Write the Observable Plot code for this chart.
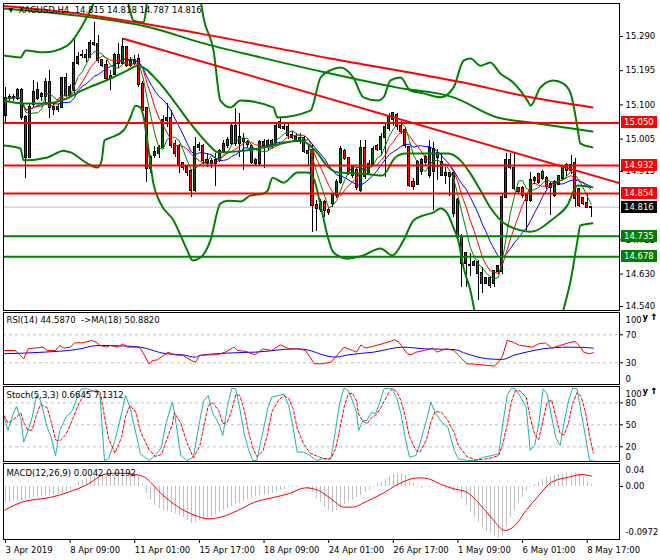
<!DOCTYPE html>
<html><head><meta charset="utf-8">
<script src="https://cdn.jsdelivr.net/npm/d3@7"></script>
<script src="https://cdn.jsdelivr.net/npm/@observablehq/plot@0.6"></script>
<style>
body{margin:0;background:#fff;}
#chart{position:relative;width:660px;height:560px;overflow:hidden;background:#fff;}
#chart svg{position:absolute;left:0;}
</style></head><body><div id="chart"></div>
<script>
// ---------- price data (H4 bars, index 0..145) ----------
const open = [15.071,15.117,15.121,15.118,15.140,15.066,14.955,15.100,15.118,15.130,
15.124,15.163,15.094,15.086,15.094,15.172,15.126,15.140,15.214,15.236,
15.238,15.232,15.270,15.268,15.223,15.209,15.172,15.185,15.237,15.214,
15.260,15.209,15.215,15.226,15.158,15.089,14.922,14.960,14.964,14.983,
15.057,15.062,14.990,14.985,14.936,14.925,14.914,14.862,14.983,14.985,
14.946,14.944,14.938,14.946,14.970,14.988,14.992,15.040,14.992,15.005,
14.995,14.985,14.945,14.937,14.996,14.985,14.999,14.995,15.050,15.034,
15.038,15.015,15.010,14.998,15.006,14.970,14.973,14.820,14.810,14.830,14.808,
14.825,14.848,14.885,14.970,14.950,14.905,14.918,14.862,14.980,14.910,
14.935,14.985,14.975,15.010,15.035,15.060,15.070,15.040,15.028,14.982,
14.885,14.880,14.915,14.955,14.905,14.975,14.965,
14.941,14.904,14.909,14.909,14.835,14.733,14.660,14.655,14.654,14.663,
14.631,14.603,14.617,14.603,14.636,14.636,14.844,14.946,14.922,14.867,
14.867,14.848,14.835,14.890,14.908,14.895,14.895,14.880,14.848,14.880,
14.895,14.918,14.918,14.936,14.866,14.839,14.825,14.815];
const high = [15.149,15.130,15.130,15.145,15.145,15.071,15.103,15.167,15.163,15.135,
15.172,15.196,15.103,15.100,15.176,15.186,15.158,15.288,15.245,15.250,
15.255,15.279,15.330,15.292,15.226,15.223,15.196,15.242,15.270,15.284,
15.262,15.232,15.236,15.240,15.165,15.092,14.960,14.985,14.988,15.070,
15.103,15.084,15.000,14.990,14.940,14.930,14.920,15.010,14.995,14.990,
14.965,14.950,14.965,14.975,15.000,15.010,15.045,15.089,15.075,15.020,
15.002,14.990,14.950,15.000,15.005,15.005,15.005,15.050,15.066,15.050,
15.045,15.025,15.020,15.020,15.012,14.990,14.990,14.834,14.838,14.835,14.812,
14.855,14.892,14.985,14.975,14.955,14.930,14.925,15.000,15.000,14.945,
14.985,14.990,15.020,15.050,15.075,15.080,15.075,15.055,15.035,14.985,
14.895,14.945,14.950,14.960,15.000,14.995,14.975,
14.966,14.925,14.913,14.918,14.840,14.740,14.690,14.686,14.668,14.668,
14.649,14.620,14.622,14.640,14.655,14.850,14.964,14.964,14.964,14.870,
14.872,14.853,14.913,14.900,14.910,14.918,14.900,14.885,14.890,14.905,
14.930,14.937,14.960,14.950,14.868,14.840,14.853,14.818];
const low = [15.047,15.110,15.110,15.112,15.057,14.895,14.950,15.094,15.112,15.110,
15.103,15.061,15.071,15.080,15.090,15.121,15.121,15.126,15.210,15.228,
15.218,15.228,15.262,15.214,15.205,15.167,15.140,15.182,15.200,15.209,
15.205,15.204,15.209,15.149,15.075,14.885,14.910,14.950,14.950,14.978,
15.038,14.980,14.955,14.910,14.918,14.900,14.844,14.858,14.970,14.935,
14.925,14.922,14.872,14.940,14.965,14.980,14.988,14.985,14.955,14.918,
14.978,14.935,14.930,14.930,14.922,14.970,14.978,14.992,15.032,15.028,
15.005,15.003,14.995,14.990,14.965,14.930,14.745,14.748,14.800,14.787,14.793,
14.815,14.840,14.880,14.945,14.905,14.895,14.862,14.858,14.893,14.905,
14.930,14.970,14.960,14.899,15.025,15.040,15.030,15.018,14.980,14.870,
14.862,14.875,14.905,14.930,14.895,14.807,14.890,
14.900,14.880,14.845,14.788,14.725,14.594,14.594,14.622,14.650,14.557,
14.575,14.600,14.590,14.594,14.630,14.630,14.840,14.920,14.862,14.850,
14.840,14.751,14.830,14.880,14.880,14.890,14.865,14.793,14.843,14.875,
14.892,14.900,14.908,14.816,14.816,14.820,14.811,14.787];
const close = [15.117,15.121,15.118,15.140,15.066,14.955,15.094,15.134,15.140,15.124,
15.163,15.094,15.086,15.094,15.172,15.126,15.149,15.214,15.233,15.238,
15.232,15.270,15.268,15.223,15.209,15.172,15.180,15.237,15.214,15.260,
15.209,15.221,15.222,15.158,15.084,14.922,14.955,14.968,14.978,15.057,
15.062,14.988,14.964,14.932,14.925,14.912,14.862,14.983,14.988,14.946,
14.941,14.938,14.946,14.970,14.990,15.000,15.040,14.992,15.010,14.998,
14.990,14.941,14.937,14.996,14.988,14.999,14.985,15.040,15.038,15.038,
15.015,15.010,15.000,15.006,14.970,14.966,14.820,14.812,14.830,14.808,14.800,
14.850,14.885,14.975,14.950,14.910,14.925,14.870,14.978,14.900,14.935,
14.975,14.975,15.010,15.038,15.066,15.075,15.040,15.025,14.987,14.876,
14.872,14.940,14.946,14.940,14.980,14.915,14.955,
14.904,14.909,14.900,14.797,14.733,14.659,14.686,14.655,14.663,14.631,
14.603,14.617,14.598,14.636,14.650,14.844,14.946,14.927,14.867,14.860,
14.848,14.835,14.890,14.895,14.885,14.913,14.872,14.870,14.885,14.900,
14.927,14.932,14.932,14.839,14.821,14.825,14.816,14.816];

// ---------- overlay lines (bar index, price) ----------
const maRedBar = [-0.5,17.8,48.3,80.4,113.4,130,145.3];
const maRedPrice = [15.375,15.354,15.298,15.229,15.162,15.121,15.093];
const maGreenBar = [-0.5,17.8,35.9,48.3,63.1,80.4,97,110.9,121.8,130,145.3];
const maGreenPrice = [15.368,15.348,15.315,15.273,15.232,15.187,15.148,15.121,15.065,15.051,15.026];
const bbUpBar = [-0.5,3.7,5,9.4,15.3,19.3,21.8,23.5,28.5,30.2,31.7,34.2,35.1,37.1,45.8,48.3,49,51.5,53.2,55.7,58.2,66.3,67.3,75.5,78,80.4,82.9,86.1,88.6,92.1,93.6,95.3,97.8,100.2,103.5,107.7,110.9,113.4,115.1,117.6,120,122.5,125.7,129.2,130,132.4,135.6,138.1,139.9,141.6,142.3,145.3];
const bbUpPrice = [15.237,15.232,15.251,15.246,15.265,15.326,15.382,15.432,15.432,15.390,15.334,15.329,15.390,15.459,15.459,15.390,15.343,15.251,15.112,15.093,15.112,15.093,15.065,15.084,15.176,15.196,15.204,15.176,15.121,15.112,15.121,15.168,15.176,15.140,15.132,15.121,15.148,15.223,15.229,15.209,15.218,15.187,15.162,15.112,15.098,15.148,15.168,15.159,15.132,15.037,14.993,14.982];
const bbMidBar = [-0.5,4.5,9.4,15.3,17.8,21.8,26,30.2,32.7,37.6,41.6,45.8,50,52.7,59.4,66.1,73,76.7,80,82.4,88.4,93.3,96.5,99,109.7,112.6,115.1,117.6,120,124.3,130,135.6,139.1,141.6,145.3];
const bbMidPrice = [15.112,15.104,15.104,15.118,15.134,15.154,15.173,15.196,15.209,15.168,15.112,15.048,14.993,14.968,14.973,14.987,15.001,14.973,14.926,14.912,14.909,14.904,14.954,14.965,14.965,14.946,14.909,14.862,14.815,14.765,14.748,14.784,14.821,14.876,14.871];
const bbLowBar = [-0.5,3.7,4.5,10.4,14.4,16.1,20.3,22.8,23.8,24.5,26,29.2,30.9,32.2,33.4,34.2,35.1,36.6,38.4,41.6,45,46.3,48.3,50.7,53.2,55,58.2,60.6,63.9,64.9,66.1,68.8,72.3,74.8,76.2,78,79.7,81.2,84.7,88.6,92.8,95.8,98.5,101,103.5,105.9,107.7,109.4,110.9,112.1,113.4,115.1,116.6,118.8,136.1,138.1,139.9,141.6,142.3,145.3];
const bbLowPrice = [14.987,14.979,14.946,14.954,14.973,14.968,14.937,14.926,14.946,15.001,15.009,15.029,15.065,15.098,15.093,15.065,15.001,14.882,14.826,14.779,14.696,14.668,14.676,14.723,14.826,14.834,14.832,14.848,14.854,14.862,14.898,14.884,14.912,14.912,14.898,14.821,14.737,14.690,14.673,14.682,14.701,14.682,14.723,14.779,14.793,14.801,14.812,14.798,14.759,14.723,14.648,14.584,14.501,14.432,14.432,14.529,14.612,14.723,14.765,14.771];
const trendBar = [29.2,152.2];
const trendPrice = [15.284,14.882];
const levelPrices = [15.050,14.932,14.854,14.735,14.678];
const levelColors = ["#ff0000","#ff0000","#ff0000","#008000","#008000"];
const bidPrice = 14.816;
const priceTicks = [15.290,15.195,15.100,15.005,14.915,14.725,14.630,14.540];

// ---------- RSI ----------
const rsiBar = [-0.4,2.4,4.5,5.6,7.2,9.3,10.3,12.4,13.4,14.5,16.1,17.1,19.2,21.3,22.4,23.4,25,26,27.6,29.2,30.2,32.3,33.4,34.4,35.5,36.5,37.6,39.2,40.2,41.8,43.9,46,47,48.1,50.2,52.3,54.4,56.5,57.5,59.6,61.7,63.8,65.9,68,70.1,72.2,74.3,75.4,76.4,78.5,80.6,81.7,83.8,85.9,86.9,88,89,91.1,93.2,95.3,96.3,97.4,99.5,100.5,101.6,103.7,105.8,106.8,109,111,112.6,114.2,117.3,119.4,121,122.1,123.1,124.2,125.7,127.3,128.9,130.5,132,133.6,135.2,137.3,139.4,141,142,143.1,144.6,145.5];
const rsiVal = [47.6,47.6,35.7,50,51,52.4,47.6,47.6,54.8,51,52.4,58.6,58.6,61.9,59.5,54.8,52.4,54.8,52.4,57.1,52.4,52.4,51,40.5,28.6,33.3,34.3,40.5,45.2,41.4,40.5,33.3,31,40.5,41.4,41.4,45.2,52.4,47.6,46.2,41.4,50,47.6,55.7,50,50,47.6,38.1,28.6,28.6,31,38.1,52.4,47.6,45.2,55.7,51,53.8,57.1,60.5,62.9,59.5,42.9,41.4,45.2,47.6,51,45.2,50,47.6,38.1,28.6,27.6,26.2,25.2,31,40.5,61.9,59.5,54.8,53.8,52.4,57.1,58.6,51,54.8,58.6,60.5,54.8,45.2,42.9,44.6];
const rsiMaBar = [-0.4,9.3,17.6,22.9,30.2,33.4,39.7,43.9,47,48.1,56.5,61.7,72.2,75.4,78.5,81.7,84.8,91.1,98.4,103.7,111,114.2,119.4,123.1,125.7,128.9,133.1,139.4,143.6,145.5];
const rsiMaVal = [42.9,45.2,49,54.8,53.8,52.4,42.9,41.4,38.1,40.5,44.3,45.2,50,47.6,41.4,38.1,41.4,45.2,52.4,50,49,42.9,35.7,34.8,40.5,45.2,50,52.4,51.9,50.9];
const rsiLevels = [70,30];

// ---------- Stochastic ----------
const stochBar = [-0.4,0.6,1.9,2.7,3.8,4.5,5.6,6.6,7.7,8.7,10.3,11.3,12.4,13.4,15,16.6,17.6,18.7,20.3,22.4,23.4,24.5,25.5,27.1,28.7,29.7,30.8,32.3,33.4,35.5,37.1,38.6,39.7,41.3,41.8,43.4,44.9,46.5,48.1,49.1,50.2,51.2,52.8,53.8,54.9,56,57,58,59.1,60.1,61.2,62.2,63.8,64.9,65.9,67.5,68.9,70.1,71.2,72.2,73.8,75.4,77,78.5,80.1,80.6,81.7,82.7,83.8,84.8,85.9,86.9,87.4,88.5,89.5,90.6,91.6,92.7,93.7,94.8,95.8,96.9,97.9,99,100,101.6,102.6,104.2,105.3,106.3,107.9,109.5,111.1,112.1,114.2,116.3,118.4,120.5,122.1,123.1,124.2,125.2,126.2,127.3,128.9,129.9,131,132,133.1,134.1,135.2,136.2,137.3,138.3,139.4,140.4,141.5,142.5,143.6,144.6,145.5];
const stochVal = [62.8,42.3,65,75,58.2,26.4,42.3,60.5,90,83.2,46.9,33.2,8.2,42.3,60.5,69.6,85.5,99.1,99.1,94.6,90,1.4,3.7,28.7,65,90,74.1,37.8,10.5,1.4,8.2,19.6,51.4,81,67.3,8.2,1.4,5.9,56,83.2,90,67.3,51.4,35.5,74.1,100,99.1,71.9,37.8,17.3,1.4,1.4,42.3,71.9,87.8,90,92.3,76.4,46.9,12.8,12.8,8.2,1.4,3.7,3.7,5.9,42.3,78.7,100,96.9,83.2,67.3,42.3,56,56,67.3,65,81,99.1,100,99.1,85.5,65,31,5.9,8.2,24.1,56,81,67.3,53.7,46.9,15,3.7,1.4,1.4,5.9,8.2,10.5,51.4,90,100,99.1,90,74.1,15,21.9,51.4,99.1,92.3,60.5,33.2,21.9,53.7,83.2,100,99.1,67.3,33.2,1.4,0.66];
const stochLevels = [80,50,20];

// ---------- MACD ----------
const macdHist = [-0.0293,-0.0293,-0.0287,-0.0274,-0.0262,-0.0249,-0.0231,-0.0212,-0.0199,-0.0187,
-0.0174,-0.0168,-0.0162,-0.0143,-0.0125,-0.0100,-0.0069,-0.0012,0.0081,0.0112,
0.0143,0.0174,0.0193,0.0206,0.0224,0.0237,0.0243,0.0249,0.0249,0.0255,
0.0249,0.0243,0.0224,0.0187,0.0050,-0.0137,-0.0262,-0.0355,-0.0417,-0.0449,
-0.0467,-0.0480,-0.0511,-0.0548,-0.0586,-0.0636,-0.0685,-0.0673,-0.0636,-0.0611,
-0.0586,-0.0555,-0.0523,-0.0492,-0.0449,-0.0405,-0.0374,-0.0336,-0.0312,-0.0280,
-0.0249,-0.0218,-0.0193,-0.0174,-0.0162,-0.0143,-0.0125,-0.0100,-0.0075,-0.0050,
-0.0025,-0.0019,-0.0012,-0.0006,-0.0006,-0.0044,-0.0112,-0.0231,-0.0293,-0.0386,
-0.0449,-0.0480,-0.0449,-0.0399,-0.0343,-0.0299,-0.0255,-0.0212,-0.0168,-0.0118,
-0.0075,-0.0012,0.0031,0.0075,0.0131,0.0181,0.0224,0.0237,0.0231,0.0199,
0.0143,0.0062,-0.0012,-0.0037,-0.0012,-0.0012,-0.0012,-0.0019,-0.0025,-0.0044,
-0.0062,-0.0087,-0.0125,-0.0231,-0.0355,-0.0480,-0.0573,-0.0667,-0.0760,-0.0835,
-0.0872,-0.0930,-0.0972,-0.0925,-0.0760,-0.0573,-0.0449,-0.0293,-0.0199,-0.0087,
-0.0012,0.0037,0.0081,0.0125,0.0162,0.0187,0.0206,0.0218,0.0231,0.0237,
0.0243,0.0237,0.0212,0.0162,0.0100,0.0042];
const sigBar = [-0.4,4,11.4,15.6,19.8,25,28.1,32.3,34.4,38.6,42.8,47,50.2,53.3,57.5,61.7,65.9,70.1,74.3,77.5,80.6,83.8,85.9,89,93.2,97.4,100.5,102.6,104.7,107.9,111,114.2,117.3,120.5,123.6,125.7,128.9,132,135.2,139.4,142.5,145.1];
const sigVal = [-0.0449,-0.0293,-0.0199,-0.0106,0.0019,0.0237,0.0249,0.0224,0.0174,-0.0137,-0.0386,-0.0542,-0.0604,-0.0573,-0.0449,-0.0293,-0.0212,-0.0137,-0.0025,-0.0075,-0.0231,-0.0386,-0.0386,-0.0293,-0.0137,0.0050,0.0143,0.0162,0.0143,0.0037,-0.0044,-0.0106,-0.0324,-0.0604,-0.0822,-0.0760,-0.0449,-0.0168,0.0081,0.0174,0.0224,0.0192];

// ---------- time axis ----------
const timeTickBars = [0,16,32,48,64,80,96,112,128,144];
const timeTickLabels = ["3 Apr 2019","8 Apr 09:00","11 Apr 01:00","15 Apr 17:00","18 Apr 09:00","24 Apr 01:00","26 Apr 17:00","1 May 09:00","6 May 01:00","8 May 17:00"];

const titleMain = "XAGUSD,H4  14.815 14.818 14.787 14.816";
const titleRsi = "RSI(14) 44.5870  ->MA(18) 50.8820";
const titleStoch = "Stoch(5,3,3) 0.6645 7.1312";
const titleMacd = "MACD(12,26,9) 0.0042 0.0192";

// ---------- build ----------
const FONT = "'DejaVu Sans', sans-serif";
const FS = 8.5;
const STYLE = {fontFamily: FONT, fontSize: FS + "px", color: "black", background: "transparent", overflow: "visible"};
const X_DOMAIN = [-0.5, 152];
const ML = 3, MR = 41, W = 660;
const BULL = "#006400", BEAR = "#ff0000", GREEN = "#008000";

const bars = close.map((c, i) => ({i, o: open[i], h: high[i], l: low[i], c}));
const pts = (xs, ys) => xs.map((x, k) => ({x, y: ys[k]}));

function priceTags(tags) {
  return (index, scales, values, dimensions) => {
    const g = d3.create("svg:g").attr("font-family", FONT).attr("font-size", FS).attr("text-anchor", "start");
    const x0 = dimensions.width - dimensions.marginRight + 2;
    for (const t of tags) {
      const y = Math.round(scales.y(t.price));
      g.append("rect").attr("x", x0).attr("y", y - 6).attr("width", 36).attr("height", 12).attr("fill", t.bg);
      g.append("text").attr("x", x0 + 3).attr("y", y).attr("dy", "0.35em").attr("text-anchor", "start").attr("fill", "white").text(t.price.toFixed(3));
    }
    return g.node();
  };
}

const tags = levelPrices.map((p, k) => ({price: p, bg: levelColors[k]})).concat([{price: bidPrice, bg: "#000000"}]);

const mainPlot = Plot.plot({
  width: W, height: 312, marginTop: 3, marginBottom: 2, marginLeft: ML, marginRight: MR,
  style: STYLE,
  x: {domain: X_DOMAIN, axis: null},
  y: {domain: [14.5289, 15.3817], axis: null},
  color: {type: "identity"},
  marks: [
    Plot.ruleY([bidPrice], {stroke: "#c0c0c0", strokeWidth: 1}),
    Plot.ruleX(bars, {x: "i", y1: "l", y2: "h", stroke: "black", strokeWidth: 1, shapeRendering: "crispEdges"}),
    Plot.rect(bars, {x1: d => d.i - 0.5, x2: d => d.i + 0.5, y1: d => Math.min(d.o, d.c), y2: d => Math.max(d.o, d.c),
      insetLeft: 1, insetRight: 1, insetTop: -0.5, insetBottom: -0.5,
      fill: d => d.c >= d.o ? BULL : BEAR, stroke: "black", strokeWidth: 1, shapeRendering: "crispEdges"}),
    Plot.line(bars, Plot.windowY({k: 13, anchor: "end", reduce: "mean"}, {x: "i", y: "c", stroke: "#0000ff", strokeWidth: 1})),
    Plot.line(bars, Plot.windowY({k: 8, anchor: "end", reduce: "mean"}, {x: "i", y: "c", stroke: "#ff0000", strokeWidth: 1})),
    Plot.line(bars, Plot.windowY({k: 5, anchor: "end", reduce: "mean"}, {x: "i", y: "c", stroke: GREEN, strokeWidth: 1})),
    Plot.line(pts(bbUpBar, bbUpPrice), {x: "x", y: "y", stroke: GREEN, strokeWidth: 2, curve: "monotone-x", clip: true}),
    Plot.line(pts(bbMidBar, bbMidPrice), {x: "x", y: "y", stroke: GREEN, strokeWidth: 2, curve: "monotone-x", clip: true}),
    Plot.line(pts(bbLowBar, bbLowPrice), {x: "x", y: "y", stroke: GREEN, strokeWidth: 2, curve: "monotone-x", clip: true}),
    Plot.line(pts(maGreenBar, maGreenPrice), {x: "x", y: "y", stroke: GREEN, strokeWidth: 2, curve: "monotone-x", clip: true}),
    Plot.line(pts(maRedBar, maRedPrice), {x: "x", y: "y", stroke: "#ff0000", strokeWidth: 2, curve: "monotone-x", clip: true}),
    Plot.line(pts(trendBar, trendPrice), {x: "x", y: "y", stroke: "#ff0000", strokeWidth: 2, clip: true}),
    Plot.ruleY(levelPrices, {stroke: (d, k) => levelColors[k], strokeWidth: 2}),
    Plot.frame({stroke: "black", shapeRendering: "crispEdges"}),
    Plot.axisY({anchor: "right", ticks: priceTicks, tickSize: 3, tickPadding: 3, tickFormat: d => d.toFixed(3), fontSize: FS}),
    priceTags(tags),
    Plot.text(["\u25BC"], {frameAnchor: "top-left", dx: 5, dy: 4, lineAnchor: "top", textAnchor: "start", fontSize: 6, fill: "black"}),
    Plot.text([titleMain], {frameAnchor: "top-left", dx: 15, dy: 3, lineAnchor: "top", textAnchor: "start", fontSize: FS, fill: "black"})
  ]
});
mainPlot.style.top = "0px";

const rsiPlot = Plot.plot({
  width: W, height: 76, marginTop: 2, marginBottom: 2, marginLeft: ML, marginRight: MR,
  style: STYLE,
  x: {domain: X_DOMAIN, axis: null},
  y: {domain: [-1, 101.9], axis: null},
  marks: [
    Plot.ruleY(rsiLevels, {stroke: "#c0c0c0", strokeDasharray: "3,3"}),
    Plot.line(pts(rsiMaBar, rsiMaVal), {x: "x", y: "y", stroke: "#0000ff", strokeWidth: 1, curve: "monotone-x"}),
    Plot.line(pts(rsiBar, rsiVal), {x: "x", y: "y", stroke: "#ff0000", strokeWidth: 1}),
    Plot.frame({stroke: "black", shapeRendering: "crispEdges"}),
    Plot.axisY({anchor: "right", ticks: [70, 30], tickSize: 3, tickPadding: 3, fontSize: FS}),
    Plot.axisY({anchor: "right", ticks: [100], tickSize: 0, tickPadding: 6, dy: 6, fontSize: FS}),
    Plot.axisY({anchor: "right", ticks: [0], tickSize: 0, tickPadding: 6, dy: -5, fontSize: FS}),
    Plot.text([titleRsi], {frameAnchor: "top-left", dx: 3, dy: 4, lineAnchor: "top", textAnchor: "start", fontSize: FS, fill: "black"})
  ]
});
rsiPlot.style.top = "310px";

const stochPlot = Plot.plot({
  width: W, height: 79, marginTop: 2, marginBottom: 2, marginLeft: ML, marginRight: MR,
  style: STYLE,
  x: {domain: X_DOMAIN, axis: null},
  y: {domain: [0, 102.3], axis: null},
  marks: [
    Plot.ruleY(stochLevels, {stroke: "#c0c0c0", strokeDasharray: "3,3"}),
    Plot.line(pts(stochBar, stochVal), {x: "x", y: "y", stroke: "#20b2aa", strokeWidth: 1}),
    Plot.line(pts(stochBar, stochVal), Plot.windowY({k: 3, anchor: "end", reduce: "mean"}, {x: "x", y: "y", stroke: "#ff0000", strokeWidth: 1, strokeDasharray: "3,2"})),
    Plot.frame({stroke: "black", shapeRendering: "crispEdges"}),
    Plot.axisY({anchor: "right", ticks: stochLevels, tickSize: 3, tickPadding: 3, fontSize: FS}),
    Plot.axisY({anchor: "right", ticks: [100], tickSize: 0, tickPadding: 6, dy: 6, fontSize: FS}),
    Plot.axisY({anchor: "right", ticks: [0], tickSize: 0, tickPadding: 6, dy: -4, fontSize: FS}),
    Plot.text([titleStoch], {frameAnchor: "top-left", dx: 3, dy: 5, lineAnchor: "top", textAnchor: "start", fontSize: FS, fill: "black"})
  ]
});
stochPlot.style.top = "384px";

const macdLabel = v => v === 0 ? "0.00" : (v > 0 ? "0.04" : "-0.0972");
const macdPlot = Plot.plot({
  width: W, height: 99, marginTop: 2, marginBottom: 21, marginLeft: ML, marginRight: MR,
  style: STYLE,
  x: {domain: X_DOMAIN, axis: null},
  y: {domain: [-0.0991, 0.0430], axis: null},
  marks: [
    Plot.ruleX(macdHist.map((v, i) => ({i, v})), {x: "i", y1: 0, y2: "v", stroke: "#c0c0c0", strokeWidth: 1, shapeRendering: "crispEdges"}),
    Plot.line(pts(sigBar, sigVal), {x: "x", y: "y", stroke: "#ff0000", strokeWidth: 1, curve: "monotone-x"}),
    Plot.frame({stroke: "black", shapeRendering: "crispEdges"}),
    Plot.axisY({anchor: "right", ticks: [0], tickSize: 3, tickPadding: 3, tickFormat: macdLabel, fontSize: FS}),
    Plot.axisY({anchor: "right", ticks: [0.04], tickSize: 0, tickPadding: 6, dy: 5, tickFormat: macdLabel, fontSize: FS}),
    Plot.axisY({anchor: "right", ticks: [-0.0972], tickSize: 0, tickPadding: 6, dy: -6, tickFormat: macdLabel, fontSize: FS}),
    Plot.axisX({anchor: "bottom", ticks: timeTickBars, tickSize: 4, tickPadding: 3, textAnchor: "start",
      tickFormat: d => timeTickLabels[timeTickBars.indexOf(d)], fontSize: FS}),
    Plot.text([titleMacd], {frameAnchor: "top-left", dx: 3, dy: 6, lineAnchor: "top", textAnchor: "start", fontSize: FS, fill: "black"})
  ]
});
macdPlot.style.top = "461px";

const chart = document.getElementById("chart");
chart.append(mainPlot, rsiPlot, stochPlot, macdPlot);
</script>
</body></html>
